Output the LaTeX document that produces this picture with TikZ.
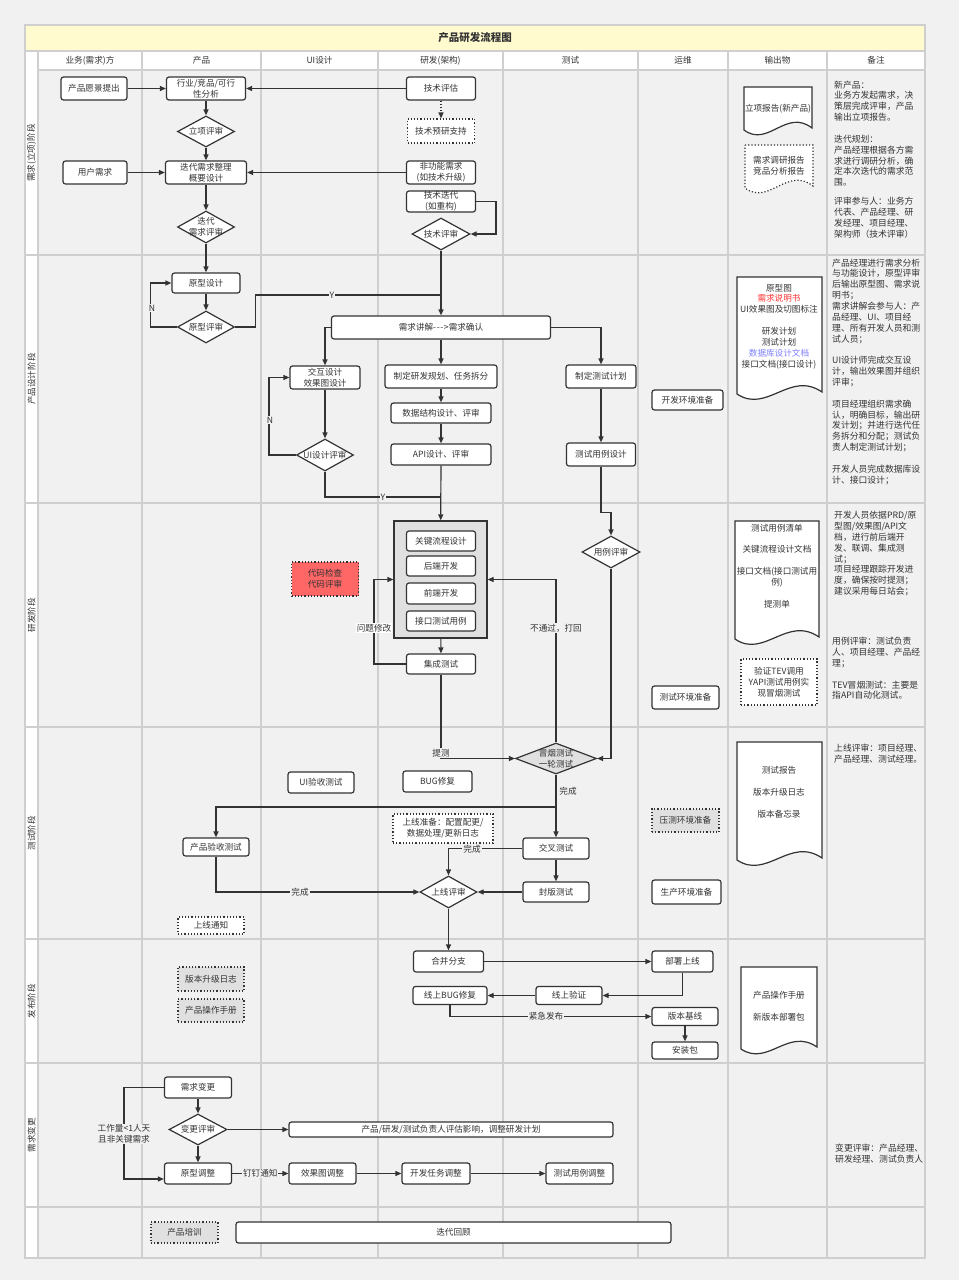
\documentclass[tikz,border=0pt]{standalone}
\usepackage{fontspec}
\setmainfont{Noto Sans CJK SC}
\usetikzlibrary{arrows.meta,shapes.geometric}
\definecolor{linec}{HTML}{333333}
\definecolor{txt}{HTML}{333333}
\definecolor{gridc}{HTML}{CFCFCF}
\definecolor{bgc}{HTML}{F1F1F1}
\definecolor{titlec}{HTML}{FFFBCF}
\definecolor{grayf}{HTML}{E0E0E0}
\definecolor{redf}{HTML}{FF6666}
\definecolor{redt}{HTML}{FF3333}
\definecolor{bluet}{HTML}{8080FF}
\newcommand{\nf}{\fontsize{8.6}{11}\selectfont}
\newcommand{\docf}{\fontsize{8.6}{10.9}\selectfont}
\newcommand{\notef}{\fontsize{8.8}{10.85}\selectfont}
\newcommand{\hy}{\mbox{-}\kern0.6pt}
\tikzset{
  wh/.style 2 args={minimum width=#1pt, minimum height=#2pt},
  box/.style={draw=linec, line width=1.2pt, rounded corners=2.5pt, fill=white, inner sep=0pt, align=center, font=\nf, text=txt},
  dbox/.style={box, dotted, sharp corners},
  dia/.style={diamond, draw=linec, line width=1.2pt, fill=white, inner sep=0pt},
  dt/.style={label={[align=center,font=\nf,text=txt,inner sep=0pt]center:#1}},
  ln/.style={draw=linec, line width=1.2pt},
  arr/.style={ln, -{Triangle[length=6pt,width=5pt]}},
  lbl/.style={fill=bgc, inner sep=1pt, font=\nf, text=txt, align=center},
  note/.style={anchor=north west, inner sep=0pt, align=left, font=\notef, text=txt},
  lane/.style={rotate=90, font=\nf, text=txt},
  hdr/.style={font=\nf, text=txt},
  doc/.style={draw=linec, line width=1.2pt, fill=white},
  doct/.style={align=center, font=\docf, text=txt, inner sep=0pt},
  grid/.style={draw=gridc, line width=1.1pt},
}
\begin{document}
\begin{tikzpicture}[x=1pt,y=-1pt]
\path[use as bounding box, fill=bgc] (0,0) rectangle (959,1280);
% ---------- table ----------
\fill[titlec] (25,25) rectangle (925,51);
\fill[white] (38,51) rectangle (925,70);
\fill[white] (25,51) rectangle (38,1258);
\draw[grid] (25,25) rectangle (925,1258);
\draw[grid] (25,51) -- (925,51);
\draw[grid] (38,70) -- (925,70);
\foreach \yy in {255,503,727,939,1063,1207} {\draw[grid] (25,\yy) -- (925,\yy);}
\foreach \xx in {38,142,261,378,503,638,728,827} {\draw[grid] (\xx,51) -- (\xx,1258);}
\node[font=\fontsize{10.5}{12}\selectfont\bfseries, text=txt] (title) at (475,38) {产品研发流程图};
\node[hdr] (h1) at (90,60.5) {业务(需求)方};
\node[hdr] (h2) at (201.5,60.5) {产品};
\node[hdr] (h3) at (319.5,60.5) {UI设计};
\node[hdr] (h4) at (440.5,60.5) {研发(架构)};
\node[hdr] (h5) at (570.5,60.5) {测试};
\node[hdr] (h6) at (683,60.5) {运维};
\node[hdr] (h7) at (777.5,60.5) {输出物};
\node[hdr] (h8) at (876,60.5) {备注};
\node[lane] (lane1) at (31.5,153) {需求(立项)阶段};
\node[lane] (lane2) at (31.5,379) {产品设计阶段};
\node[lane] (lane3) at (31.5,615) {研发阶段};
\node[lane] (lane4) at (31.5,833) {测试阶段};
\node[lane] (lane5) at (31.5,1001) {发布阶段};
\node[lane] (lane6) at (31.5,1135) {需求变更};
% ---------- phase 1 ----------
\node[box, wh={66}{23}] (vision) at (94,88.5) {产品愿景提出};
\node[box, wh={79}{23}] (analysis) at (206,88.5) {行业/竞品/可行\\性分析};
\node[dia, wh={57}{31}, dt={立项评审}] (lxps) at (206,131.5) {};
\node[box, wh={81}{23}] (iterreq) at (206,172.5) {迭代需求整理\\概要设计};
\node[dia, wh={57}{32}, dt={迭代\\需求评审}] (iterrev) at (206,227) {};
\node[box, wh={64}{23}] (userreq) at (95,172.5) {用户需求};
\node[box, wh={69}{23}] (techeval) at (441,88.5) {技术评估};
\node[dbox, wh={67}{24}] (presearch) at (441,131) {技术预研支持};
\node[box, wh={69}{23}] (nonfunc) at (441,172.5) {非功能需求\\(如技术升级)};
\node[box, wh={69}{21}] (techiter) at (441,201.5) {技术迭代\\(如重构)};
\node[dia, wh={58}{32}, dt={技术评审}] (techrev) at (441,234) {};
\coordinate (ti) at (496,201.5);
\draw[arr] (vision) -- (analysis);
\draw[arr] (techeval) -- (analysis);
\draw[arr, dotted] (techeval) -- (presearch);
\draw[arr] (analysis) -- (lxps);
\draw[arr] (lxps) -- (iterreq);
\draw[arr] (userreq) -- (iterreq);
\draw[arr] (nonfunc) -- (iterreq);
\draw[arr] (iterreq) -- (iterrev);
\draw[arr] (techiter.east) -- (ti) |- (techrev.east);
% docs phase 1
\draw[doc] (744,87) -- (812,87) -- (812,128) .. controls (786,108) and (768,148) .. (744,130) -- cycle;
\node[doct] (doc1t) at (778,109) {立项报告(新产品)};
\draw[doc, dotted] (745,145) -- (813,145) -- (813,186) .. controls (787,166) and (769,206) .. (745,188) -- cycle;
\node[doct] (doc2t) at (779,166) {需求调研报告\\竞品分析报告};
\node[note] (note1) at (834,80.5) {新产品：\\业务方发起需求，决\\策层完成评审，产品\\输出立项报告。\\ \mbox{}\\迭代规划：\\产品经理根据各方需\\求进行调研分析，确\\定本次迭代的需求范\\围。\\[8pt]评审参与人：业务方\\代表、产品经理、研\\发经理、项目经理、\\架构师（技术评审）};
% ---------- phase 2 ----------
\node[box, wh={68}{20}] (protodesign) at (206,283) {原型设计};
\node[dia, wh={57}{32}, dt={原型评审}] (protorev) at (206,327) {};
\node[box, wh={219}{23}] (reqexp) at (441,327.5) {需求讲解\hy\hy\hy>需求确认};
\node[box, wh={70}{23}] (uidesign) at (325,377.5) {交互设计\\效果图设计};
\node[dia, wh={57}{32}, dt={UI设计评审}] (uirev) at (325,455) {};
\node[box, wh={112}{23}] (rdplan) at (441,376.5) {制定研发规划、任务拆分};
\node[box, wh={100}{20}] (dbdesign) at (441,413) {数据结构设计、评审};
\node[box, wh={100}{21}] (apidesign) at (441,454.5) {API设计、评审};
\node[box, wh={70}{23}] (testplan) at (601,376.5) {制定测试计划};
\node[box, wh={69}{23}] (testcase) at (601,454.5) {测试用例设计};
\node[box, wh={71}{20}] (devenv) at (687.5,400) {开发环境准备};
\coordinate (yj1) at (441,295);
\coordinate (yj2) at (441,497);
\draw[arr] (iterrev) -- (protodesign);
\draw[arr] (techrev) -- (reqexp);
\draw[arr] (protodesign) -- (protorev);
\draw[arr] (protorev.west) -- ++(-26.5,0) |- (protodesign.west);
\node[lbl] (lN1) at (152,308) {N};
\draw[ln] (protorev.east) -- ++(20,0) |- (yj1);
\node[lbl] (lY1) at (332,295) {Y};
\draw[arr] (reqexp.west) -| (uidesign.north);
\draw[arr] (uidesign) -- (uirev);
\draw[arr] (uirev.west) -- ++(-27,0) |- (uidesign.west);
\node[lbl] (lN2) at (270,420) {N};
\draw[ln] (uirev.south) |- (yj2);
\node[lbl] (lY2) at (383,497) {Y};
\draw[arr] (reqexp) -- (rdplan);
\draw[arr] (rdplan) -- (dbdesign);
\draw[arr] (dbdesign) -- (apidesign);
\draw[arr] (reqexp.east) -| (testplan.north);
\draw[arr] (testplan) -- (testcase);
\draw[doc] (737,277) -- (822,277) -- (822,392) .. controls (790,370) and (767,414) .. (737,394) -- cycle;
\node[doct] (doc3t) at (779,326.5) {原型图\\\textcolor{redt}{需求说明书}\\UI效果图及切图标注\\ \mbox{}\\研发计划\\测试计划\\\textcolor{bluet}{数据库设计文档}\\接口文档(接口设计)};
\node[note] (note2) at (832,258.5) {产品经理进行需求分析\\与功能设计，原型评审\\后输出原型图、需求说\\明书；\\需求讲解会参与人：产\\品经理、UI、项目经\\理、所有开发人员和测\\试人员；\\ \mbox{}\\UI设计师完成交互设\\计，输出效果图并组织\\评审；\\ \mbox{}\\项目经理组织需求确\\认，明确目标，输出研\\发计划；并进行迭代任\\务拆分和分配；测试负\\责人制定测试计划；\\ \mbox{}\\开发人员完成数据库设\\计、接口设计；};
% ---------- phase 3 ----------
\node[draw=linec, line width=1.2pt, fill=grayf, inner sep=0pt, wh={93}{117}] (devbox) at (440.5,579.5) {};
\node[box, wh={69}{20}] (keyflow) at (441,541) {关键流程设计};
\node[box, wh={69}{20}] (backend) at (441,566) {后端开发};
\node[box, wh={69}{21}] (frontend) at (441,593.5) {前端开发};
\node[box, wh={69}{20}] (apitest) at (441,621) {接口测试用例};
\node[box, wh={69}{20}] (inttest) at (441,664) {集成测试};
\node[dbox, fill=redf, wh={67}{34}] (codereview) at (325,579) {代码检查\\代码评审};
\node[dia, wh={58}{32}, dt={用例评审}] (caserev) at (611,552) {};
\node[box, wh={67}{23}] (testenv) at (685.5,697.5) {测试环境准备};
\node[dbox, wh={76}{46}] (tev) at (779,682) {验证TEV调用\\YAPI测试用例实\\现冒烟测试};
\draw[arr] (apidesign) -- (devbox);
\draw[arr] (testcase.south) -- ++(0,45.5) -| (caserev.north);
\draw[arr] (devbox) -- (inttest);
\draw[arr] (inttest.west) -- ++(-32,0) |- (devbox.west);
\node[lbl, fill=white] (lfix) at (374,628) {问题修改};
\draw[doc] (735,521) -- (819,521) -- (819,637) .. controls (787,615) and (764,659) .. (735,639) -- cycle;
\node[doct] (doc4t) at (777,566) {测试用例清单\\ \mbox{}\\关键流程设计文档\\ \mbox{}\\接口文档(接口测试用\\例)\\ \mbox{}\\提测单};
\node[note] (note3) at (834,511) {开发人员依据PRD/原\\型图/效果图/API文\\档，进行前后端开\\发、联调、集成测\\试；\\项目经理跟踪开发进\\度，确保按时提测；\\建议采用每日站会；};
\node[note] (note3b) at (832,637) {用例评审：测试负责\\人、项目经理、产品经\\理；\\ \mbox{}\\TEV冒烟测试：主要是\\指API自动化测试。};
% ---------- phase 4 ----------
\node[dia, fill=grayf, wh={81}{31}, dt={冒烟测试\\一轮测试}] (smoke) at (556,758.5) {};
\node[box, wh={66}{18}] (prodaccept) at (216,847) {产品验收测试};
\node[dia, wh={57}{32}, dt={上线评审}] (golive) at (448.5,892) {};
\node[box, wh={66}{21}] (uiaccept) at (321,782.5) {UI验收测试};
\node[box, wh={69}{21}] (bugfix) at (437.5,781.5) {BUG修复};
\node[dbox, wh={100}{29}] (prep) at (443,828.5) {上线准备：配置配更/\\数据处理/更新日志};
\node[box, wh={66}{21}] (crosstest) at (556,848.5) {交叉测试};
\node[box, wh={66}{20}] (sealtest) at (556,892) {封版测试};
\node[dbox, wh={66}{17}] (notify) at (211,925.5) {上线通知};
\node[dbox, fill=grayf, wh={67}{23}] (stressenv) at (685.5,820.5) {压测环境准备};
\node[box, wh={69}{24}] (prodenv) at (686.5,892) {生产环境准备};
\coordinate (br1) at (556,807);
\draw[arr] (smoke.north) |- (devbox.east);
\node[lbl] (lreject) at (556,628) {不通过，打回};
\draw[arr] (caserev.south) |- (smoke.east);
\draw[arr] (inttest.south) |- (smoke.west);
\node[lbl] (ltice) at (441,753) {提测};
\draw[arr] (smoke) -- (crosstest);
\node[lbl] (ldone1) at (568,791) {完成};
\draw[arr] (br1) -| (prodaccept.north);
\draw[arr] (crosstest.west) -| (golive.north);
\node[lbl] (ldone2) at (472,849) {完成};
\draw[arr] (crosstest) -- (sealtest);
\draw[arr] (sealtest) -- (golive);
\draw[arr] (prodaccept.south) |- (golive.west);
\node[lbl] (ldone3) at (300,892) {完成};
\draw[doc] (737,742) -- (822,742) -- (822,858) .. controls (790,836) and (767,880) .. (737,860) -- cycle;
\node[doct] (doc5t) at (779,792) {测试报告\\ \mbox{}\\版本升级日志\\ \mbox{}\\版本备忘录};
\node[note] (note4) at (834,744) {上线评审：项目经理、\\产品经理、测试经理。};
% ---------- phase 5 ----------
\node[box, wh={70}{21}] (merge) at (448.5,961.5) {合并分支};
\node[box, wh={61}{21}] (deploy) at (682.5,961.5) {部署上线};
\node[box, wh={66}{18}] (onlinever) at (569,995.5) {线上验证};
\node[box, wh={74}{18}] (onlinebug) at (450,995.5) {线上BUG修复};
\node[box, wh={66}{18}] (baseline) at (685,1016.5) {版本基线};
\node[box, wh={66}{17}] (installpkg) at (685,1050.5) {安装包};
\node[dbox, fill=grayf, wh={66}{24}] (uplog) at (211,979) {版本升级日志};
\node[dbox, fill=grayf, wh={66}{23}] (manual) at (211,1010.5) {产品操作手册};
\draw[arr] (golive) -- (merge);
\draw[arr] (merge) -- (deploy);
\draw[arr] (deploy.south) |- (onlinever.east);
\draw[arr] (onlinever) -- (onlinebug);
\draw[arr] (onlinebug.south) |- (baseline.west);
\node[lbl] (lurgent) at (546,1016.5) {紧急发布};
\draw[arr] (baseline) -- (installpkg);
\draw[doc] (741,967) -- (817,967) -- (817,1047) .. controls (788,1027) and (768,1067) .. (741,1049) -- cycle;
\node[doct] (doc6t) at (779,1006) {产品操作手册\\ \mbox{}\\新版本部署包};
% ---------- phase 6 ----------
\node[box, wh={67}{21}] (reqchange) at (198,1087.5) {需求变更};
\node[dia, wh={58}{31}, dt={变更评审}] (changerev) at (198,1129.5) {};
\node[box, wh={67}{21}] (protoadj) at (198,1173.5) {原型调整};
\node[box, wh={324}{15}] (assess) at (451,1129.5) {产品/研发/测试负责人评估影响，调整研发计划};
\node[box, wh={67}{21}] (uiadj) at (322.5,1173.5) {效果图调整};
\node[box, wh={68}{21}] (devadj) at (436,1173.5) {开发任务调整};
\node[box, wh={67}{21}] (testadj) at (579.5,1173.5) {测试用例调整};
\draw[arr] (reqchange.west) -- ++(-40,0) |- ([yshift=-5.5pt]protoadj.west);
\node[lbl] (lwork) at (124,1134) {工作量<1人天\\且非关键需求};
\draw[arr] (reqchange) -- (changerev);
\draw[arr] (changerev) -- (protoadj);
\draw[arr] (changerev) -- (assess);
\draw[arr] (protoadj) -- node[lbl] (ldd) {钉钉通知} (uiadj);
\draw[arr] (uiadj) -- (devadj);
\draw[arr] (devadj) -- (testadj);
\node[note] (note6) at (835,1144) {变更评审：产品经理、\\研发经理、测试负责人};
% ---------- phase 7 ----------
\node[dbox, fill=grayf, wh={67}{21}] (training) at (184.5,1232.5) {产品培训};
\node[box, wh={435}{21}] (review) at (453.5,1232.5) {迭代回顾};
\end{tikzpicture}
\end{document}
